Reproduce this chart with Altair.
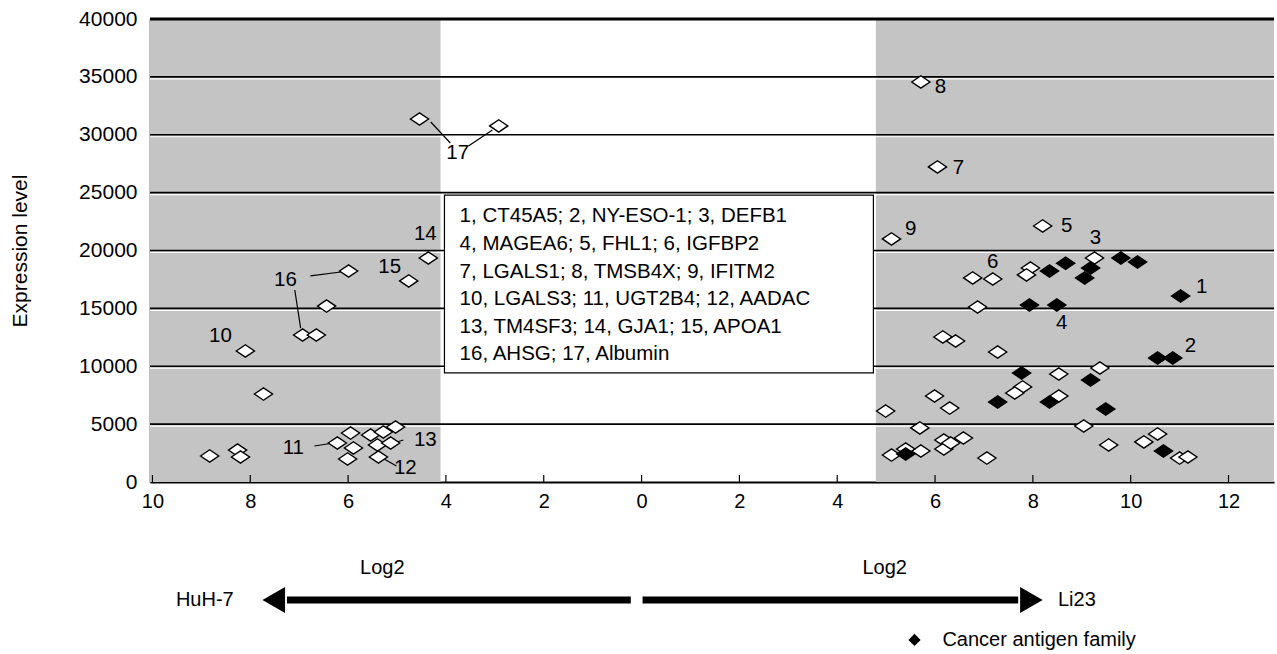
import altair as alt
import pandas as pd

# ---------------- data ----------------
# x: signed log2 value (negative = HuH-7 side, positive = Li23 side); y: expression level
white_x = [-4.54, -2.92, -4.36, -4.76, -5.99, -6.44, -6.93, -6.65, -8.10, -7.73,
           -8.83, -8.26, -8.20, -6.22, -5.95, -5.89, -6.01, -5.54, -5.28, -5.03,
           -5.40, -5.13, -5.38,
           5.71, 6.05, 5.11, 8.20, 9.26, 7.95, 7.87, 6.77, 7.18, 6.87,
           6.16, 6.42, 7.28, 8.53, 7.79, 7.63, 8.53, 5.99, 6.30, 4.99,
           9.04, 5.69, 6.18, 6.58, 6.18, 5.71, 5.11, 5.40, 7.06, 6.32,
           9.37, 9.55, 10.27, 10.55, 11.00, 11.17]
white_y = [31360, 30760, 19350, 17370, 18230, 15200, 12700, 12700, 11320, 7600,
           2250, 2760, 2160, 3370, 4230, 2940, 1990, 4060, 4320, 4750,
           3200, 3370, 2160,
           34560, 27220, 21000, 22120, 19350, 18490, 17890, 17630, 17540, 15120,
           12530, 12180, 11230, 9330, 8210, 7690, 7430, 7430, 6390, 6130,
           4840, 4670, 3630, 3800, 2850, 2680, 2330, 2850, 2070, 3370,
           9850, 3200, 3460, 4150, 2070, 2160]
black_x = [9.80, 10.14, 11.02, 8.67, 8.34, 9.18, 9.06, 7.93, 8.49, 10.55,
           10.86, 7.77, 7.28, 8.34, 9.18, 9.49, 5.40, 10.67]
black_y = [19350, 19000, 16070, 18900, 18230, 18490, 17630, 15290, 15290, 10710,
           10710, 9420, 6910, 6910, 8810, 6300, 2420, 2680]

# number labels near points
lab_text = ["17", "14", "15", "16", "10", "11", "13", "12",
            "8", "7", "9", "5", "3", "6", "1", "4", "2"]
lab_x = [-3.76, -4.42, -5.15, -7.28, -8.61, -7.12, -4.42, -4.83,
         6.11, 6.48, 5.50, 8.69, 9.28, 7.18, 11.45, 8.59, 11.22]
lab_y = [28420, 21425, 18570, 17450, 12610, 2940, 3630, 1210,
         34125, 27130, 21860, 22120, 21080, 19010, 16850, 13740, 11750]

# leader lines (x, y) -> (x2, y2)
lead_x = [-4.31, -3.54, -6.77, -7.09, -6.69, -4.87, -5.01]
lead_x2 = [-3.91, -3.05, -6.15, -6.97, -6.30, -5.07, -5.30]
lead_y = [31100, 29030, 17800, 16590, 3110, 3630, 1380]
lead_y2 = [29290, 30410, 18140, 13300, 3370, 3370, 2070]

# shaded bands
band_x = [-10.05, 4.79]
band_x2 = [-4.11, 12.93]

grid_values = [5000, 10000, 15000, 20000, 25000, 30000, 35000]
x_ticks = [-10, -8, -6, -4, -2, 0, 2, 4, 6, 8, 10, 12]
y_ticks = [0, 5000, 10000, 15000, 20000, 25000, 30000, 35000, 40000]

key_text = ("1, CT45A5; 2, NY-ESO-1; 3, DEFB1\n"
            "4, MAGEA6; 5, FHL1; 6, IGFBP2\n"
            "7, LGALS1; 8, TMSB4X; 9, IFITM2\n"
            "10, LGALS3; 11, UGT2B4; 12, AADAC\n"
            "13, TM4SF3; 14, GJA1; 15, APOA1\n"
            "16, AHSG; 17, Albumin")
key_box = {"x": -4.03, "x2": 4.74, "y": 24790, "y2": 9420}

# annotations below the axis
arrow_x = [-0.22, 0.02]
arrow_x2 = [-7.25, 7.70]
arrow_y = -10190
head_x = [-7.52, 7.97]
head_shape = ["triangle-left", "triangle-right"]
side_text = ["Log2", "Log2", "HuH-7", "Li23"]
side_x = [-5.30, 4.97, -8.93, 8.90]
side_y = [-7430, -7430, -10190, -10190]
legend_x = 5.58
legend_tx = 6.15
legend_y = -13650

FONT = "Liberation Sans"
XD = [-10.05, 12.93]
YD = [0, 40000]

xs = alt.Scale(domain=XD, nice=False, zero=False)
ys = alt.Scale(domain=YD, nice=False, zero=False)

pts = pd.DataFrame({
    "x": white_x + black_x,
    "y": white_y + black_y,
    "k": ["w"] * len(white_x) + ["b"] * len(black_x),
})
DIAMOND = "M-1,0L0,-0.68L1,0L0,0.68Z"

bands = alt.Chart(pd.DataFrame({"x": band_x, "x2": band_x2})).mark_rect(
    color="#c4c4c4").encode(
    x=alt.X("x:Q", scale=xs, axis=alt.Axis(
        values=x_ticks, labelExpr="abs(datum.value)", ticks=False, grid=False,
        domain=True, domainColor="black", domainWidth=2, labelPadding=9,
        labelFont=FONT, labelFontSize=20, labelColor="black", title=None)),
    x2="x2:Q",
    y=alt.Y("y0:Q", scale=ys, axis=alt.Axis(
        values=y_ticks, format="d", ticks=False, grid=False, domain=True,
        domainColor="black", domainWidth=1.5, labelPadding=13,
        labelFont=FONT, labelFontSize=21, labelColor="black",
        title="Expression level", titleFont=FONT, titleFontSize=21,
        titleFontWeight="normal", titleColor="black", titlePadding=48)),
    y2="y1:Q",
).transform_calculate(y0="0", y1="40000")

grid_df = pd.DataFrame({"y": grid_values})
grid_white = alt.Chart(grid_df).mark_rule(color="white", strokeWidth=1.2, yOffset=2).encode(
    y=alt.Y("y:Q", scale=ys))
grid = alt.Chart(grid_df).mark_rule(color="black", strokeWidth=1.6).encode(
    y=alt.Y("y:Q", scale=ys))
top_line = alt.Chart(pd.DataFrame({"y": [40000]})).mark_rule(
    color="black", strokeWidth=3).encode(y=alt.Y("y:Q", scale=ys))

ticks_df = pd.DataFrame({"x": x_ticks})
inner_ticks = alt.Chart(ticks_df).mark_rule(color="black", strokeWidth=1.2).encode(
    x=alt.X("x:Q", scale=xs), y=alt.value(463), y2=alt.value(456))

key_rect = alt.Chart(pd.DataFrame([key_box])).mark_rect(
    fill="white", stroke="black", strokeWidth=1.2).encode(
    x=alt.X("x:Q", scale=xs), x2="x2:Q", y=alt.Y("y:Q", scale=ys), y2="y2:Q")
key_txt = alt.Chart(pd.DataFrame({"t": [key_text], "x": [-3.72], "y": [22950]})).mark_text(
    align="left", baseline="middle", font=FONT, fontSize=20.5, lineHeight=27.6,
    lineBreak="\n", color="black").encode(
    x=alt.X("x:Q", scale=xs), y=alt.Y("y:Q", scale=ys), text="t:N")

leads = alt.Chart(pd.DataFrame({"x": lead_x, "x2": lead_x2, "y": lead_y, "y2": lead_y2})
                  ).mark_rule(color="black", strokeWidth=1.2).encode(
    x=alt.X("x:Q", scale=xs), x2="x2:Q", y=alt.Y("y:Q", scale=ys), y2="y2:Q")

points = alt.Chart(pts).mark_point(shape=DIAMOND, size=330, filled=True,
                                   strokeWidth=1.4, opacity=1).encode(
    x=alt.X("x:Q", scale=xs), y=alt.Y("y:Q", scale=ys),
    fill=alt.Fill("k:N", scale=alt.Scale(domain=["w", "b"], range=["white", "black"]), legend=None),
    stroke=alt.value("black"),
    order=alt.Order("k:N", sort="descending"),
)

labels = alt.Chart(pd.DataFrame({"t": lab_text, "x": lab_x, "y": lab_y})).mark_text(
    font=FONT, fontSize=20.5, color="black", baseline="middle", align="center").encode(
    x=alt.X("x:Q", scale=xs), y=alt.Y("y:Q", scale=ys), text="t:N")

arrows = alt.Chart(pd.DataFrame({"x": arrow_x, "x2": arrow_x2, "y": [arrow_y] * 2})).mark_rule(
    color="black", strokeWidth=7).encode(
    x=alt.X("x:Q", scale=xs), x2="x2:Q", y=alt.Y("y:Q", scale=ys))
heads = alt.Chart(pd.DataFrame({"x": head_x, "y": [arrow_y] * 2, "s": head_shape})).mark_point(
    filled=True, color="black", size=680, opacity=1).encode(
    x=alt.X("x:Q", scale=xs), y=alt.Y("y:Q", scale=ys),
    shape=alt.Shape("s:N", scale=alt.Scale(domain=head_shape, range=head_shape), legend=None))
side = alt.Chart(pd.DataFrame({"t": side_text, "x": side_x, "y": side_y})).mark_text(
    font=FONT, fontSize=20, color="black", baseline="middle", align="center").encode(
    x=alt.X("x:Q", scale=xs), y=alt.Y("y:Q", scale=ys), text="t:N")

leg_pt = alt.Chart(pd.DataFrame({"x": [legend_x], "y": [legend_y]})).mark_point(
    shape="diamond", filled=True, color="black", size=150, opacity=1).encode(
    x=alt.X("x:Q", scale=xs), y=alt.Y("y:Q", scale=ys))
leg_txt = alt.Chart(pd.DataFrame({"x": [legend_tx], "y": [legend_y], "t": ["Cancer antigen family"]})
                    ).mark_text(font=FONT, fontSize=20, color="black", align="left",
                                baseline="middle").encode(
    x=alt.X("x:Q", scale=xs), y=alt.Y("y:Q", scale=ys), text="t:N")

chart = alt.layer(
    bands, grid_white, grid, top_line, inner_ticks, key_rect, key_txt, leads,
    points, labels, arrows, heads, side, leg_pt, leg_txt
).properties(
    width=1124, height=463,
    autosize=alt.AutoSizeParams(type="none"),
    padding={"left": 150, "top": 19, "right": 3, "bottom": 172},
    background="white",
).configure_view(stroke=None)

chart.save("out.html", embed_options={"renderer": "svg", "actions": False})
